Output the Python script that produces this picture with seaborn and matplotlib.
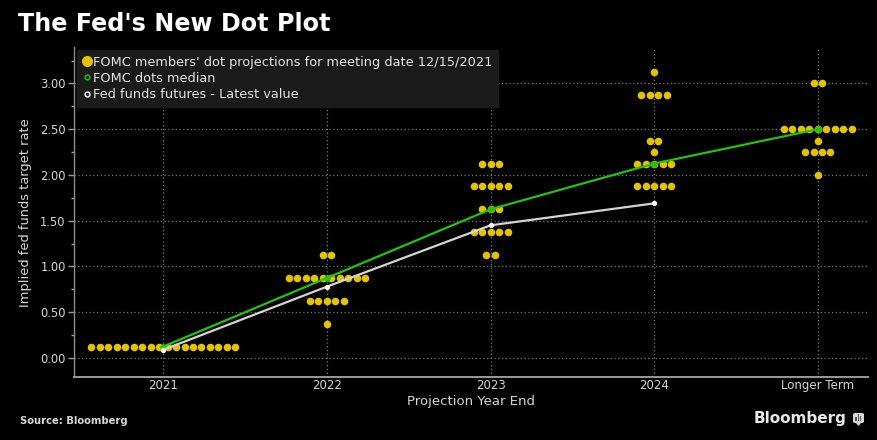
import numpy as np
import pandas as pd
import matplotlib
matplotlib.use("Agg")
import matplotlib.pyplot as plt
import seaborn as sns
from matplotlib.lines import Line2D
from matplotlib.patches import FancyBboxPatch, Rectangle, Polygon
from matplotlib.ticker import MultipleLocator, FormatStrFormatter

# ---------------- data ----------------
categories = ["2021", "2022", "2023", "2024", "Longer Term"]
dot_rates = [
    [0.125],
    [1.125, 0.875, 0.625, 0.375],
    [2.125, 1.875, 1.625, 1.375, 1.125],
    [3.125, 2.875, 2.375, 2.25, 2.125, 1.875],
    [3.0, 2.5, 2.375, 2.25, 2.0],
]
dot_counts = [
    [18],
    [2, 10, 5, 1],
    [3, 5, 3, 5, 2],
    [1, 4, 2, 1, 5, 5],
    [2, 9, 1, 4, 1],
]
median_categories = ["2021", "2022", "2023", "2024", "Longer Term"]
median_rates = [0.125, 0.875, 1.625, 2.125, 2.5]
futures_categories = ["2021", "2022", "2023", "2024"]
futures_rates = [0.09, 0.78, 1.45, 1.69]
ytick_values = [0.0, 0.5, 1.0, 1.5, 2.0, 2.5, 3.0]

sns.set_theme(style="dark")
plt.rcParams["font.family"] = ["DejaVu Sans"]

BG = "#000000"
YELLOW = "#e3c300"
GREEN = "#22c40e"
WHITE_LINE = "#d4d4d4"
GRID = "#7a7a7a"
TXT = "#d6d6d6"

DOT_STEP = 0.0518  # horizontal spacing of repeated dots, category units

rows = []
for ci, (rates, counts) in enumerate(zip(dot_rates, dot_counts)):
    for r, n in zip(rates, counts):
        for k in range(n):
            rows.append({"x": ci + (k - (n - 1) / 2) * DOT_STEP, "rate": r})
dots = pd.DataFrame(rows)
med = pd.DataFrame({"x": [categories.index(c) for c in median_categories], "rate": median_rates})
fut = pd.DataFrame({"x": [categories.index(c) for c in futures_categories], "rate": futures_rates})

fig = plt.figure(figsize=(8.78, 4.40), dpi=100, facecolor=BG)
ax = fig.add_axes([0.0843, 0.1425, 0.9043, 0.7507])
ax.set_facecolor(BG)

sns.scatterplot(data=dots, x="x", y="rate", ax=ax, color=YELLOW, s=30,
                linewidth=0, zorder=3, legend=False)
sns.lineplot(data=med, x="x", y="rate", ax=ax, color=GREEN, linewidth=1.6,
             marker="o", markersize=4, markerfacecolor=GREEN, markeredgecolor=GREEN,
             zorder=4, legend=False)
sns.lineplot(data=fut, x="x", y="rate", ax=ax, color=WHITE_LINE, linewidth=1.6,
             marker="o", markersize=3, markerfacecolor="white", markeredgecolor="white",
             zorder=5, legend=False)

ax.set_xlim(-0.546, 4.307)
ax.set_ylim(-0.211, 3.399)
ax.set_xticks(range(len(categories)))
ax.set_xticklabels(categories)
ax.set_yticks(ytick_values)
ax.yaxis.set_major_formatter(FormatStrFormatter("%.2f"))
ax.yaxis.set_minor_locator(MultipleLocator(0.25))

ax.grid(True, which="major", color=GRID, linestyle=(0, (1, 2)), linewidth=0.9)
ax.tick_params(axis="x", length=0, colors=TXT, labelsize=8.5, pad=1.5)
ax.tick_params(axis="y", which="major", length=4, width=1, color="#9a9a9a",
               labelcolor=TXT, labelsize=8.3, left=True, direction="out", pad=2)
ax.tick_params(axis="y", which="minor", length=2, width=1, color="#9a9a9a", left=True)

for s in ["top", "right"]:
    ax.spines[s].set_visible(False)
ax.spines["left"].set_color("#8c8c8c")
ax.spines["left"].set_linewidth(1)
ax.spines["bottom"].set_color("#9a9a9a")
ax.spines["bottom"].set_linewidth(1.4)

ax.set_xlabel("Projection Year End", color=TXT, fontsize=9.5, labelpad=2)
ax.set_ylabel("Implied fed funds target rate", color=TXT, fontsize=9.4, labelpad=6)

handles = [
    Line2D([], [], linestyle="none", marker="o", markersize=7, markerfacecolor=YELLOW,
           markeredgecolor=YELLOW),
    Line2D([], [], linestyle="none", marker="o", markersize=3.5, markerfacecolor="none",
           markeredgecolor=GREEN, markeredgewidth=1),
    Line2D([], [], linestyle="none", marker="o", markersize=3.5, markerfacecolor="none",
           markeredgecolor="white", markeredgewidth=1),
]
labels = ["FOMC members' dot projections for meeting date 12/15/2021",
          "FOMC dots median",
          "Fed funds futures - Latest value"]
leg = ax.legend(handles, labels, loc="upper left", bbox_to_anchor=(0.004, 0.991),
                borderaxespad=0, frameon=True, fontsize=9.3, handlelength=0.6,
                handletextpad=0.15, labelspacing=0.25, borderpad=0.45, fancybox=False)
leg.get_frame().set_facecolor("#1b1b1b")
leg.get_frame().set_edgecolor("#1b1b1b")
leg.get_frame().set_alpha(1)
leg.set_zorder(2)
for t in leg.get_texts():
    t.set_color("#e4e4e4")

fig.text(0.02, 0.945, "The Fed's New Dot Plot", fontsize=17.2, fontweight="bold",
         color="white", va="center", ha="left")
fig.text(0.023, 0.043, "Source: Bloomberg", fontsize=7.2, fontweight="bold",
         color=TXT, va="center", ha="left")
fig.text(0.964, 0.05, "Bloomberg", fontsize=11, fontweight="bold",
         color="#e8e8e8", va="center", ha="right")

# small Bloomberg speech-bubble icon
W, H = 878.0, 440.0
icon = FancyBboxPatch((853 / W, (H - 423) / H), 11 / W, 10 / H,
                      boxstyle="round,pad=0,rounding_size=0.003",
                      transform=fig.transFigure, facecolor="#d8d8d8",
                      edgecolor="none")
fig.patches.append(icon)
tail = Polygon([(856 / W, (H - 423) / H), (861 / W, (H - 423) / H),
                (858.5 / W, (H - 426) / H)], closed=True,
               transform=fig.transFigure, facecolor="#d8d8d8", edgecolor="none")
fig.patches.append(tail)
for bx, bh in [(855.5, 4), (857.8, 7), (860.1, 5)]:
    fig.patches.append(Rectangle((bx / W, (H - 421) / H), 1.4 / W, bh / H,
                                 transform=fig.transFigure, facecolor="#555555",
                                 edgecolor="none"))

fig.savefig("out.png", dpi=100, facecolor=BG)
